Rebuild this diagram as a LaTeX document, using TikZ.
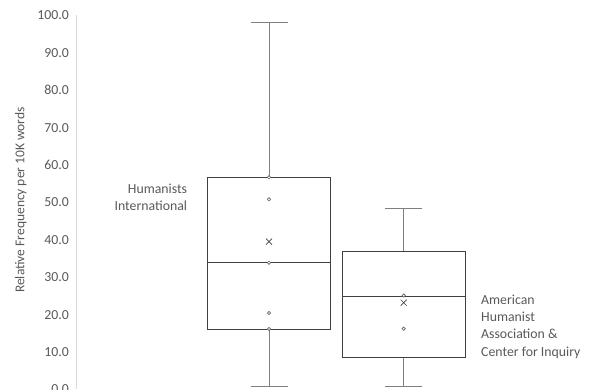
\documentclass[tikz,border=0pt]{standalone}
\usepackage{fontspec}
\setmainfont{Carlito}
\definecolor{txt}{HTML}{595959}
\definecolor{boxc}{HTML}{404040}
\definecolor{whisk}{HTML}{7F7F7F}
\definecolor{axisc}{HTML}{D9D9D9}
\begin{document}
\begin{tikzpicture}[x=1pt,y=1pt,
  ticklab/.style={anchor=east,text=txt,font=\fontsize{13.8}{16}\selectfont,inner sep=0pt},
  grplab/.style={text=txt,font=\fontsize{13.8}{17.3}\selectfont,inner sep=0pt},
  boxline/.style={draw=boxc,line width=0.9pt},
  whiskline/.style={draw=whisk,line width=0.9pt},
  pt/.style={draw=whisk!80!black,line width=0.7pt,fill=white},
  meanmark/.style={draw=boxc,line width=0.7pt}]
\useasboundingbox (0,0) rectangle (592,389);
% axis
\coordinate (axtop) at (76,374);
\coordinate (axbot) at (76,0);
\draw[axisc,line width=0.8pt] (axtop) -- (axbot);
\foreach \v in {0,10,...,100}{
  \node[ticklab] (t\v) at (69,{-0.4+3.739*\v}) {\v.0};
}
\node[text=txt,font=\fontsize{13.5}{16}\selectfont,rotate=90,inner sep=0pt] (ylab) at (20.7,189) {Relative Frequency per 10K words};
% box 1
\coordinate (b1wt) at (269,367);
\coordinate (b1wb) at (269,2.3);
\draw[whiskline] (250.7,367) -- (287.7,367);
\draw[whiskline] (250.7,2.3) -- (287.7,2.3);
\draw[whiskline] (b1wt) -- (269,211.7);
\draw[whiskline] (b1wb) -- (269,60);
\node[boxline,minimum width=123.3pt,minimum height=151.7pt,inner sep=0pt] (box1) at (268.65,135.85) {};
\draw[boxline] (box1.west |- 0,126.3) -- (box1.east |- 0,126.3);
\foreach \y in {211.7,189.7,126.3,76,60}{\draw[pt] (269,\y) circle (1.7);}
\draw[meanmark] (266,144.3) -- (272,150.3) (266,150.3) -- (272,144.3);
% box 2
\coordinate (b2wt) at (403.7,180.3);
\coordinate (b2wb) at (403.7,2.3);
\draw[whiskline] (385,180.3) -- (422.3,180.3);
\draw[whiskline] (385,2.3) -- (422.3,2.3);
\draw[whiskline] (b2wt) -- (403.7,137.3);
\draw[whiskline] (b2wb) -- (403.7,32);
\node[boxline,minimum width=122.7pt,minimum height=105.3pt,inner sep=0pt] (box2) at (403.65,84.65) {};
\draw[boxline] (box2.west |- 0,92.7) -- (box2.east |- 0,92.7);
\foreach \y in {93.5,60.3}{\draw[pt] (403.7,\y) circle (1.7);}
\draw[meanmark] (400.7,83.3) -- (406.7,89.3) (400.7,89.3) -- (406.7,83.3);
% labels
\node[grplab,align=right,anchor=base east] (hi) at (187.3,178.5) {Humanists\\International};
\node[grplab,align=left,anchor=base west] (ah) at (481,33) {American\\Humanist\\Association \&\\Center for Inquiry};
\end{tikzpicture}
\end{document}
